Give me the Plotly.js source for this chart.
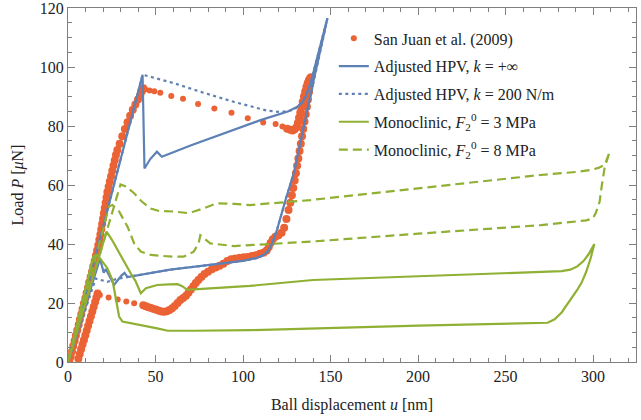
<!DOCTYPE html>
<html><head><meta charset="utf-8">
<script src="https://cdn.plot.ly/plotly-3.0.1.min.js"></script>
<style>body{margin:0;background:#fff}</style>
</head><body><div id="chart" style="width:641px;height:420px"></div>
<script>
// Experimental data: San Juan et al. (2009) — densely sampled stretches
const expDenseU = [0.8,1.5,2.3,3.0,3.8,4.5,5.3,6.1,6.8,7.6,8.3,9.1,9.9,10.6,11.4,12.1,12.9,13.7,14.4,15.2,15.9,16.6,17.3,17.9,18.5,19.0,19.5,20.0,20.5,21.0,21.5,22.0,22.5,23.2,23.9,24.6,25.3,26.0,26.7,27.4,28.2,29.5,31.0,32.5,34.0,35.5,37.0,38.5,40.0,41.3,42.3,43.0,
  125.2,127.0,128.3,129.5,130.5,131.3,132.0,132.7,133.4,134.1,134.8,135.5,136.2,136.9,137.6,138.3,138.8,
  138.3,137.7,137.1,136.5,135.8,135.1,134.4,133.7,133.0,132.3,131.6,130.9,130.2,129.5,128.7,127.9,127.0,126.0,124.8,123.5,
  122.0,120.3,118.5,117.0,115.7,114.7,113.5,111.8,109.6,107.3,105.0,102.7,100.4,98.0,95.6,93.2,91.0,88.8,86.6,84.4,82.2,80.0,78.0,76.2,74.5,73.0,71.6,70.2,68.8,67.4,65.8,64.2,62.6,61.0,59.5,58.0,56.5,55.0,53.5,52.0,50.5,49.0,47.5,46.0,44.5,43.0,
  16.9,16.2,15.5,14.7,13.9,13.1,12.3,11.5,10.7,9.9,9.1,8.3,7.5,6.7,5.9];
const expDenseP = [0,1.8,3.6,5.4,7.2,9.0,10.8,12.6,14.4,16.2,18.0,19.8,21.6,23.4,25.2,27.0,28.8,30.6,32.4,34.2,36.0,37.8,39.6,41.4,43.2,45.0,46.8,48.6,50.4,52.2,54.0,55.8,57.6,59.4,61.2,63.0,64.8,66.6,68.4,70.2,71.9,74.0,76.5,79.0,81.3,83.5,85.5,87.3,89.0,90.6,91.9,92.8,
  79.1,78.7,78.5,78.9,79.6,81.0,82.8,84.6,86.4,88.2,90.0,91.7,93.2,94.5,95.5,96.2,96.5,
  94.0,91.5,89.0,86.5,84.0,81.5,79.0,76.5,74.0,71.5,69.0,66.5,64.0,61.5,59.0,56.5,54.0,51.5,48.5,45.5,
  43.8,43.0,42.5,41.6,40.3,39.0,37.8,37.1,36.7,36.2,35.9,35.6,35.5,35.3,35.1,34.8,34.2,33.3,32.6,32.0,31.4,30.6,29.8,28.8,27.8,26.8,25.7,24.6,23.5,22.5,21.7,21.0,20.0,19.0,18.2,17.6,17.2,17.0,17.1,17.4,17.7,18.0,18.3,18.6,18.9,19.2,
  23.2,21.8,20.3,18.7,17.1,15.5,13.9,12.3,10.7,9.1,7.5,5.9,4.3,2.7,1.1];
// Experimental data — sparsely sampled stretches (fast pop-in / pop-out)
const expSparseU = [44.1,46.6,49.3,52.7,59.0,65.7,74.3,83.6,93.4,102.7,111.5,118.6,122.5,
  37.8,33.3,28.4,23.2,18.2];
const expSparseP = [92.5,92.0,91.8,91.3,90.2,89.2,87.5,85.9,84.5,82.6,81.2,80.7,79.8,
  19.9,20.5,21.2,21.9,22.7];

// Adjusted HPV, k = +inf
const hpvInfU = [0,42.6,43.7,47.0,50.8,53.6,70.0,90.9,110.0,126.0,131.0,133.5,135.8,138.6,148.2,140.4,132.9,129.0,124.3,119.5,116.5,114.0,111.5,108.0,100.0,80.0,58.4,34.0,32.3,30.5,26.3,21.6,20.4,18.3,0];
const hpvInfP = [0,97.4,65.6,68.8,71.3,69.6,73.4,78.0,82.0,85.0,86.5,87.8,89.8,94.5,116.5,95.6,75.3,64.0,55.0,45.0,40.0,37.4,36.2,35.3,34.3,32.8,31.3,28.8,30.2,29.3,26.1,31.5,30.3,35.0,0];

// Adjusted HPV, k = 200 N/m
const hpv200U = [0,42.6,60.0,75.6,94.7,113.8,122.0,129.0,132.0,134.5,136.5,138.6,148.2,140.4,132.9,129.0,124.3,119.5,116.5,114.0,111.5,108.0,100.0,80.0,58.4,34.0,28.0,22.5,15.8,0];
const hpv200P = [0,97.4,94.6,91.6,88.2,85.2,84.7,85.5,86.8,88.8,91.2,94.5,116.5,95.6,75.3,64.0,55.0,45.0,40.0,37.4,36.2,35.3,34.3,32.8,31.3,28.8,28.2,27.2,28.3,0];

// Monoclinic, F2^0 = 3 MPa
const mono3U = [0,22.0,25.0,28.2,32.0,35.9,38.5,41.6,44.5,51.0,58.0,62.6,65.0,68.0,72.0,104.0,140.0,200.0,250.0,282.0,287.0,291.0,294.5,297.5,300.7,298.5,296.0,293.5,291.0,288.5,285.5,282.0,278.0,274.0,200.0,104.0,72.0,57.0,51.0,41.6,35.9,31.1,29.2,27.3,25.4,22.5,19.6,16.8,14.5,0];
const mono3P = [0,44.2,41.5,38.0,34.0,30.0,27.5,23.3,25.0,26.1,26.3,26.4,25.8,24.5,24.6,25.8,27.8,29.0,30.1,30.8,31.3,32.4,34.2,36.6,40.0,35.0,30.5,27.0,24.5,22.3,19.5,16.8,14.5,13.3,12.3,10.8,10.6,10.6,11.4,12.5,13.1,13.7,15.4,21.0,27.8,31.8,34.0,36.3,35.8,0];

// Monoclinic, F2^0 = 8 MPa
const mono8U = [0,30.0,33.0,37.8,42.0,47.2,52.0,60.7,68.0,72.0,77.5,85.0,95.0,104.0,138.6,155.8,218.8,270.0,290.0,299.0,303.0,306.6,309.5,306.6,305.0,303.7,301.5,299.9,296.0,289.4,270.3,200.0,138.6,106.0,95.0,81.3,77.5,75.6,74.6,71.8,66.0,60.7,53.0,47.4,41.6,37.8,34.0,29.2,25.4,23.5,0];
const mono8P = [0,60.2,59.5,57.2,54.5,52.0,51.2,51.0,50.5,51.0,52.1,53.8,53.6,53.2,54.9,56.0,60.0,63.4,64.4,65.1,65.8,66.8,71.3,66.0,60.0,54.3,50.5,48.7,48.0,47.6,46.4,43.5,40.8,39.7,39.3,40.2,41.9,43.0,40.2,37.4,35.7,35.7,36.0,36.3,37.4,40.2,45.9,51.0,53.2,52.8,0];

const names = ['San Juan et al. (2009)',
  'Adjusted HPV, <i>k</i> = +∞',
  'Adjusted HPV, <i>k</i> = 200 N/m',
  'Monoclinic, <i>F</i><sub>2</sub><sup>0</sup> = 3 MPa',
  'Monoclinic, <i>F</i><sub>2</sub><sup>0</sup> = 8 MPa'];
const xTicks = [0,50,100,150,200,250,300];
const yTicks = [0,20,40,60,80,100,120];

const BLUE = '#5E81B5', GREEN = '#8FB032', RED = '#EB6235';
const FONT = 'Liberation Serif';

const traces = [
  {x: expSparseU, y: expSparseP, name: names[0], mode: 'markers', type: 'scatter',
   marker: {color: RED, size: 6, line: {width: 0}}, legendgroup: 'a'},
  {x: expDenseU, y: expDenseP, name: names[0], mode: 'markers', type: 'scatter', showlegend: false,
   marker: {color: RED, size: 8, line: {width: 0}}, legendgroup: 'a'},
  {x: hpvInfU, y: hpvInfP, name: names[1], mode: 'lines', type: 'scatter',
   line: {color: BLUE, width: 2.2}, legendgroup: 'b'},
  {x: hpv200U, y: hpv200P, name: names[2], mode: 'lines', type: 'scatter',
   line: {color: BLUE, width: 2.2, dash: '3px,3.5px'}, legendgroup: 'c'},
  {x: mono3U, y: mono3P, name: names[3], mode: 'lines', type: 'scatter',
   line: {color: GREEN, width: 2.2}, legendgroup: 'd'},
  {x: mono8U, y: mono8P, name: names[4], mode: 'lines', type: 'scatter',
   line: {color: GREEN, width: 2.2, dash: '9px,5px'}, legendgroup: 'e'}
];

const axisCommon = {
  showline: true, linecolor: '#808080', linewidth: 1, mirror: 'ticks',
  ticks: 'inside', ticklen: 7, tickcolor: '#808080', tickwidth: 1,
  showgrid: false, zeroline: false, ticklabeloverflow: 'allow',
  tickfont: {family: FONT, size: 16, color: '#222'}
};

const layout = {
  width: 641, height: 420,
  margin: {l: 68, r: 5, t: 8, b: 58},
  paper_bgcolor: '#fff', plot_bgcolor: '#fff',
  font: {family: FONT, size: 16, color: '#222'},
  showlegend: true,
  legend: {x: 0.468, y: 0.962, xanchor: 'left', yanchor: 'top',
    bgcolor: 'rgba(0,0,0,0)', font: {family: FONT, size: 16, color: '#222'},
    tracegroupgap: 4, itemwidth: 30},
  xaxis: Object.assign({}, axisCommon, {
    range: [0, 324.5], tickmode: 'array', tickvals: xTicks, ticktext: xTicks.map(String),
    minor: {dtick: 10, ticks: 'inside', ticklen: 4, tickcolor: '#808080'},
    title: {text: 'Ball displacement <i>u</i> [nm]', font: {family: FONT, size: 16, color: '#222'}, standoff: 14}
  }),
  yaxis: Object.assign({}, axisCommon, {
    range: [0, 120], tickmode: 'array', tickvals: yTicks, ticktext: yTicks.map(String),
    minor: {dtick: 5, ticks: 'inside', ticklen: 4, tickcolor: '#808080'},
    title: {text: 'Load <i>P</i> [<i>μ</i>N]', font: {family: FONT, size: 16, color: '#222'}, standoff: 12}
  })
};

Plotly.newPlot('chart', traces, layout, {displayModeBar: false, staticPlot: true});
</script>
</body></html>
